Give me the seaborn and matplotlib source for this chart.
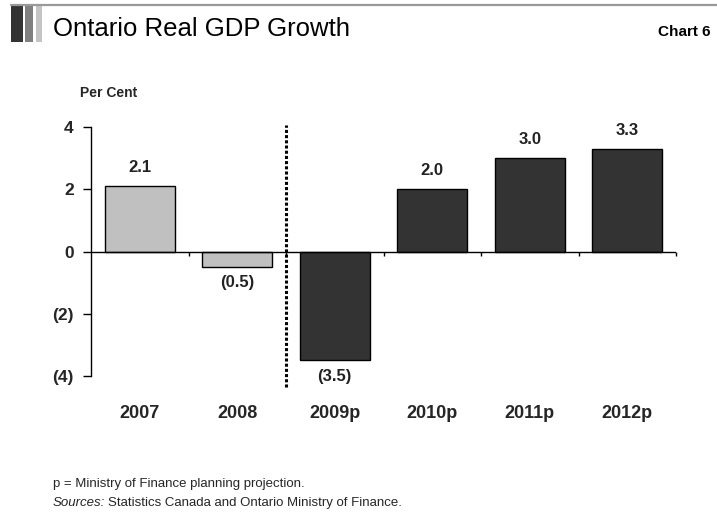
import matplotlib
matplotlib.use("Agg")
import matplotlib.pyplot as plt
from matplotlib.patches import Rectangle
from matplotlib.lines import Line2D
import seaborn as sns
import pandas as pd

years = ["2007", "2008", "2009p", "2010p", "2011p", "2012p"]
growth = [2.1, -0.5, -3.5, 2.0, 3.0, 3.3]
kind = ["Actual", "Actual", "Projection", "Projection", "Projection", "Projection"]
value_labels = ["2.1", "(0.5)", "(3.5)", "2.0", "3.0", "3.3"]
y_ticks = [-4, -2, 0, 2, 4]
y_tick_labels = ["(4)", "(2)", "0", "2", "4"]
palette = {"Actual": "#c0c0c0", "Projection": "#333333"}

sns.set_theme(style="white")
plt.rcParams["font.family"] = ["Liberation Sans", "DejaVu Sans"]

df = pd.DataFrame({"year": years, "growth": growth, "kind": kind})

W, H = 717, 529
fig = plt.figure(figsize=(W / 100, H / 100), dpi=100)
ax = fig.add_axes([91 / W, 1 - 376 / H, 585 / W, 249 / H])

sns.barplot(data=df, x="year", y="growth", hue="kind", palette=palette,
            dodge=False, width=0.72, edgecolor="black", linewidth=1,
            legend=False, ax=ax, order=years)

ax.set_ylim(-4, 4)
ax.set_xlim(-0.5, len(years) - 0.5)
ax.set_yticks(y_ticks)
ax.set_yticklabels(y_tick_labels, fontsize=12.5, fontweight="bold")
ax.tick_params(axis="y", direction="out", length=5.5, width=1, color="black", pad=7, left=True)
ax.tick_params(axis="x", length=0, pad=21)
for lbl in ax.get_xticklabels():
    lbl.set_fontsize(13)
    lbl.set_fontweight("bold")
ax.set_xlabel("")
ax.set_ylabel("")
for s in ["top", "right", "bottom"]:
    ax.spines[s].set_visible(False)
ax.spines["left"].set_color("black")
ax.spines["left"].set_linewidth(1)

# zero line with boundary ticks
ax.axhline(0, color="black", lw=1, zorder=3)
bounds = [i + 0.5 for i in range(len(years))]
ax.vlines(bounds, -0.15, 0, color="black", lw=1, zorder=3, clip_on=False)

# dotted divider between actual and projection
ax.plot([1.5, 1.5], [-4.35, 4.05], color="black", lw=2.2, linestyle=(0, (1, 0.7)),
        clip_on=False, zorder=4)

# value labels
for i, (v, t) in enumerate(zip(growth, value_labels)):
    if v >= 0:
        ax.annotate(t, (i, v), xytext=(0, 8), textcoords="offset points",
                    ha="center", va="bottom", fontsize=12, fontweight="bold", color="#222222")
    else:
        ax.annotate(t, (i, v), xytext=(0, -6), textcoords="offset points",
                    ha="center", va="top", fontsize=12, fontweight="bold", color="#222222")

# header
fig.add_artist(Line2D([11 / W, 1], [1 - 5 / H, 1 - 5 / H], color="#999999", lw=1.6))
fig.add_artist(Rectangle((11 / W, 1 - 42 / H), 12 / W, 36 / H, color="#333333", lw=0))
fig.add_artist(Rectangle((25 / W, 1 - 42 / H), 8 / W, 36 / H, color="#808080", lw=0))
fig.add_artist(Rectangle((36 / W, 1 - 42 / H), 6 / W, 36 / H, color="#c4c4c4", lw=0))
fig.text(53 / W, 1 - 29 / H, "Ontario Real GDP Growth", fontsize=18.5,
         va="center", ha="left", color="black")
fig.text(710 / W, 1 - 32 / H, "Chart 6", fontsize=11,
         fontweight="bold", va="center", ha="right", color="black")

fig.text(80 / W, 1 - 93 / H, "Per Cent", fontsize=10,
         fontweight="bold", va="center", ha="left")

fig.text(53 / W, 1 - 484 / H, "p = Ministry of Finance planning projection.",
         fontsize=9.5, va="center", ha="left")
src = fig.text(53 / W, 1 - 503 / H, "Sources:", fontsize=9.5,
               style="italic", va="center", ha="left")
ax.annotate("Statistics Canada and Ontario Ministry of Finance.", xy=(1, 0.5),
            xycoords=src, xytext=(2, 0), textcoords="offset points",
            fontsize=9.5, va="center", ha="left", annotation_clip=False)

fig.savefig("out.png", dpi=100)
